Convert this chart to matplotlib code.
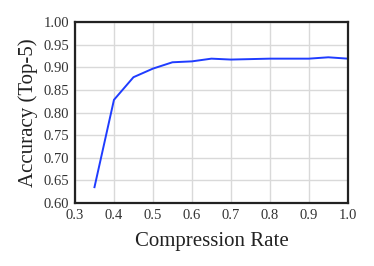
import matplotlib
matplotlib.use("Agg")
import matplotlib.pyplot as plt

rates = [0.35, 0.40, 0.45, 0.50, 0.55, 0.60, 0.65, 0.70, 0.75, 0.80, 0.85, 0.90, 0.95, 1.00]
acc = [0.635, 0.828, 0.878, 0.897, 0.911, 0.913, 0.919, 0.917, 0.918, 0.919, 0.919, 0.919, 0.922, 0.919]
xticks = [0.3, 0.4, 0.5, 0.6, 0.7, 0.8, 0.9, 1.0]
yticks = [0.60, 0.65, 0.70, 0.75, 0.80, 0.85, 0.90, 0.95, 1.00]

plt.rcParams['font.family'] = ['Liberation Serif', 'DejaVu Serif']

fig = plt.figure(figsize=(3.74, 2.66), dpi=100)
ax = fig.add_axes([0.2005, 0.2368, 0.7295, 0.6805])
ax.plot(rates, acc, color='#1f3cff', lw=1.4)
ax.set_xlim(0.3, 1.0)
ax.set_ylim(0.6, 1.0)
ax.set_xticks(xticks)
ax.set_xticklabels([f"{v:.1f}" for v in xticks])
ax.set_yticks(yticks)
ax.set_yticklabels([f"{v:.2f}" for v in yticks])
ax.grid(True, color='#d9d9d9', lw=1.0)
ax.set_axisbelow(True)
for s in ax.spines.values():
    s.set_linewidth(1.6)
    s.set_color('#222222')
ax.tick_params(length=0, labelsize=10.5, colors='#333333', pad=4)
ax.set_xlabel('Compression Rate', fontsize=15, color='#222222', labelpad=7.5)
ax.set_ylabel('Accuracy (Top-5)', fontsize=15, color='#222222', labelpad=4)
fig.savefig('out.png', dpi=100)
